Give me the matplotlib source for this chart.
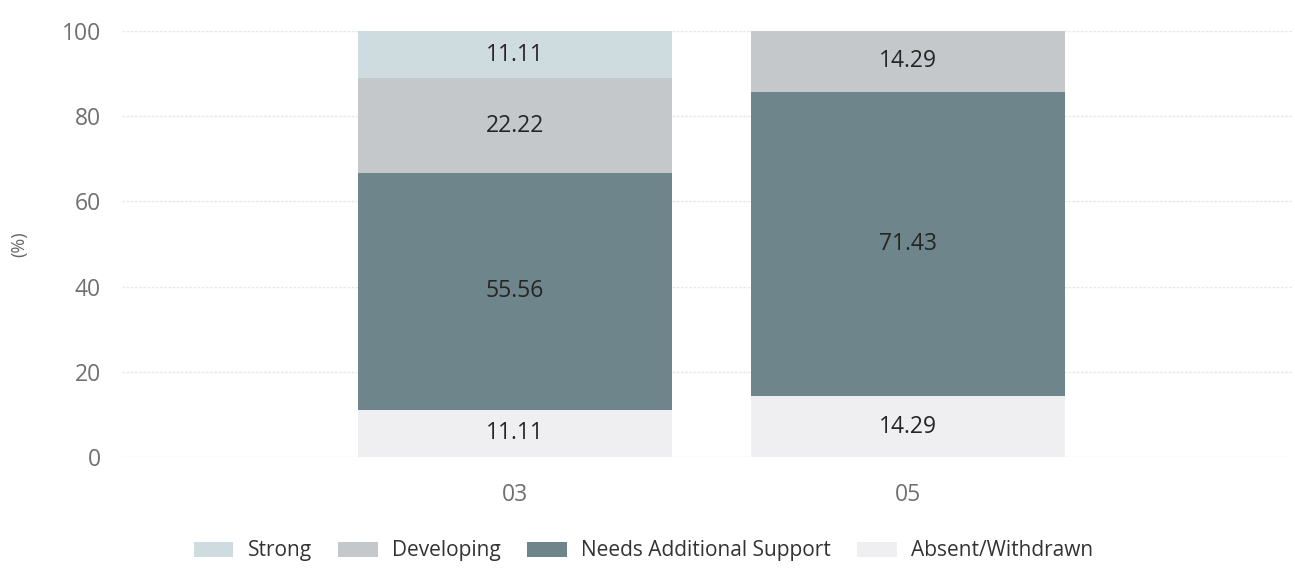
import numpy as np
import matplotlib
matplotlib.use("Agg")
import matplotlib.pyplot as plt

plt.rcParams['font.family'] = ['Open Sans', 'DejaVu Sans']

## ================= DATA ================= ##
categories = ["03", "05"]
series = ["Absent/Withdrawn", "Needs Additional Support", "Developing", "Strong"]
values = {
    "Absent/Withdrawn": [11.11, 14.29],
    "Needs Additional Support": [55.56, 71.43],
    "Developing": [22.22, 14.29],
    "Strong": [11.11, 0.0],
}
legend_order = ["Strong", "Developing", "Needs Additional Support", "Absent/Withdrawn"]
y_ticks = [0, 20, 40, 60, 80, 100]

colors = {
    "Strong": "#cedcdf",
    "Developing": "#c5c8ca",
    "Needs Additional Support": "#6d858b",
    "Absent/Withdrawn": "#efeff1",
}

## ================= PLOT ================= ##
fig = plt.figure(figsize=(12.95, 5.83), dpi=100)
ax = fig.add_axes([0.094, 0.216, 0.9045, 0.731])

x_pos = np.arange(len(categories))
bottom = np.zeros(len(categories))
handles = {}
for name in series:
    vals = np.array(values[name])
    bars = ax.bar(x_pos, vals, width=0.8, bottom=bottom, color=colors[name],
                  edgecolor='none', label=name, zorder=2)
    handles[name] = bars
    for xi, v, b in zip(x_pos, vals, bottom):
        if v > 0:
            ax.text(xi, b + v / 2, f"{v:.2f}", ha='center', va='center',
                    fontsize=16.5, color='#252525', zorder=3)
    bottom += vals

ax.set_xlim(-1.0, 1.98)
ax.set_ylim(0, 100)
ax.set_xticks(x_pos)
ax.set_xticklabels(categories)
ax.set_yticks(y_ticks)
ax.tick_params(axis='both', length=0, labelsize=16.5, labelcolor='#707070')
ax.tick_params(axis='y', pad=15)
ax.tick_params(axis='x', pad=19)
ax.set_ylabel("(%)", fontsize=13, color='#666666', labelpad=24)

for s in ax.spines.values():
    s.set_visible(False)
ax.grid(axis='y', color='#e8e8e8', linestyle=(0, (2, 1)), linewidth=1, zorder=0)
ax.set_axisbelow(True)

fig.legend([handles[n] for n in legend_order], legend_order,
           loc='center', bbox_to_anchor=(0.497, 0.055), ncol=4, frameon=False,
           fontsize=15, handlelength=1.9, handleheight=0.75, handletextpad=0.7,
           columnspacing=1.25, labelcolor='#333333')

fig.savefig("out.png", dpi=100)
